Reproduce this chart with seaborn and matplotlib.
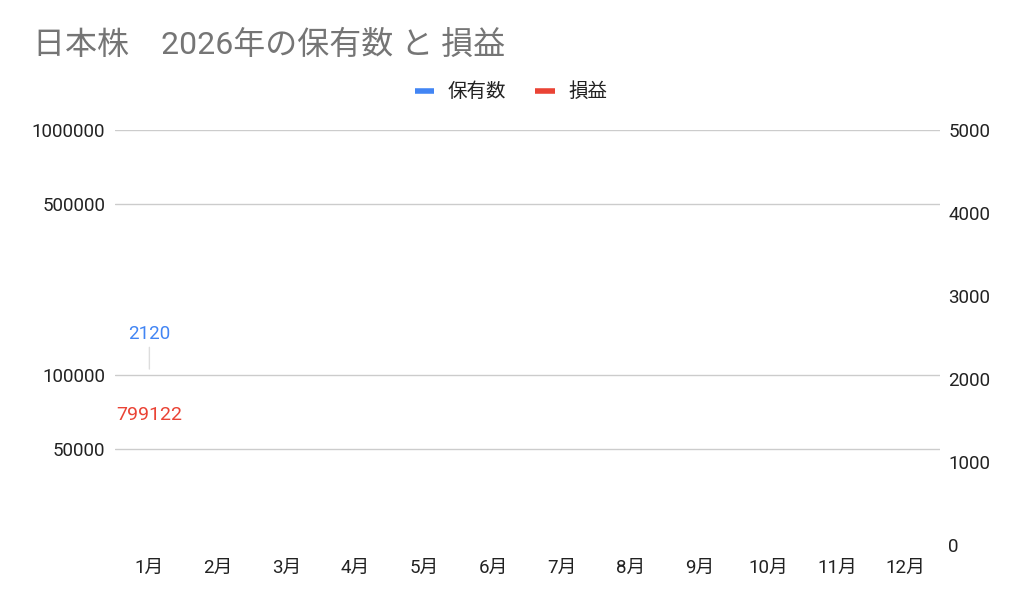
import numpy as np
import pandas as pd
import seaborn as sns
import matplotlib.pyplot as plt
from matplotlib.lines import Line2D

sns.set_theme(style="white")
plt.rcParams['font.family'] = ['Roboto', 'Noto Sans CJK JP', 'DejaVu Sans']

# data
months = [f"{m}月" for m in range(1, 13)]
holdings = [2120] + [np.nan] * 11       # 保有数 (right axis)
profit = [799122] + [np.nan] * 11       # 損益 (left axis, log)
left_ticks = [50000, 100000, 500000, 1000000]
right_ticks = [0, 1000, 2000, 3000, 4000, 5000]

blue = "#4285F4"
red = "#EA4335"
grid_c = "#cccccc"

df = pd.DataFrame({"month": months, "保有数": holdings, "損益": profit})
x = np.arange(len(months))

fig = plt.figure(figsize=(10.24, 6.06), dpi=100)
ax = fig.add_axes([115 / 1024, 1 - 545 / 606, 825 / 1024, 415 / 606])
ax2 = ax.twinx()

sns.lineplot(x=x, y=df["損益"], ax=ax, color=red, linewidth=2)
sns.lineplot(x=x, y=df["保有数"], ax=ax2, color=blue, linewidth=2)

ax.set_yscale("log")
ax.set_ylim(10 ** (5 - 170 / 245), 1000000)
ax.set_yticks(left_ticks)
ax.set_yticklabels([str(t) for t in left_ticks])
ax.yaxis.set_minor_locator(plt.NullLocator())
ax.grid(axis="y", color=grid_c, linewidth=1)
ax.set_axisbelow(True)

ax2.set_ylim(0, 5000)
ax2.set_yticks(right_ticks)
ax2.set_yticklabels([str(t) for t in right_ticks])
ax2.grid(False)

ax.set_xlim(-0.5, len(months) - 0.5)
ax.set_xticks(x)
ax.set_xticklabels(months)

for a in (ax, ax2):
    for s in a.spines.values():
        s.set_visible(False)
    a.tick_params(length=0, labelsize=13.5, colors="#222222")
    a.set_xlabel("")
    a.set_ylabel("")
ax.tick_params(axis="y", pad=7)
ax2.tick_params(axis="y", pad=6)
ax.tick_params(axis="x", pad=10)

# data labels
ax2.annotate(f"{holdings[0]}", xy=(x[0], holdings[0]), xytext=(0, 19),
             textcoords="offset points", ha="center", va="bottom",
             color=blue, fontsize=13.5,
             arrowprops=dict(arrowstyle="-", color="#dddddd", lw=1,
                             shrinkA=1, shrinkB=0))
ax.annotate(f"{profit[0]}", xy=(x[0], 0.313), xycoords=("data", "axes fraction"),
            ha="center", va="center", color=red, fontsize=14)

fig.text(33 / 1024, 1 - 45 / 606, "日本株　2026年の保有数 と 損益",
         fontsize=23, color="#757575", va="center", ha="left")

handles = [Line2D([], [], color=blue, lw=4, solid_capstyle="butt"),
           Line2D([], [], color=red, lw=4, solid_capstyle="butt")]
fig.legend(handles, ["保有数", "損益"], loc="center", bbox_to_anchor=(511 / 1024, 1 - 92 / 606),
           ncol=2, frameon=False, fontsize=14, handlelength=1.0, handletextpad=0.7,
           columnspacing=1.5, labelcolor="#222222")

fig.savefig("out.png", dpi=100)
